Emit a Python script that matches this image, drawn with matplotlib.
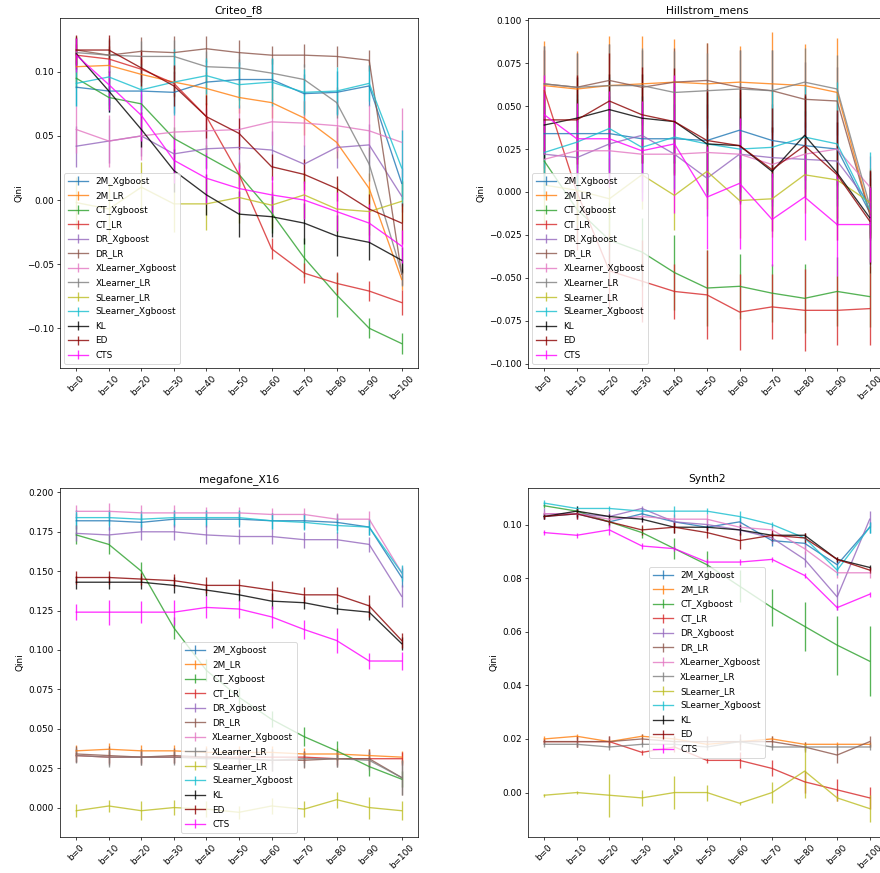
import matplotlib
matplotlib.use('Agg')
import matplotlib.pyplot as plt

bins = ['b=0', 'b=10', 'b=20', 'b=30', 'b=40', 'b=50', 'b=60', 'b=70', 'b=80', 'b=90', 'b=100']
methods = ['2M_Xgboost', '2M_LR', 'CT_Xgboost', 'CT_LR', 'DR_Xgboost', 'DR_LR',
           'XLearner_Xgboost', 'XLearner_LR', 'SLearner_LR', 'SLearner_Xgboost',
           'KL', 'ED', 'CTS']
colors = ['tab:blue', 'tab:orange', 'tab:green', 'tab:red', 'tab:purple', 'tab:brown',
          'tab:pink', 'tab:gray', 'tab:olive', 'tab:cyan', 'black', 'darkred', 'magenta']

# rows follow the order of `methods`
criteo_qini = [
    [0.088, 0.085, 0.085, 0.084, 0.092, 0.094, 0.094, 0.083, 0.084, 0.089, 0.013],
    [0.104, 0.105, 0.098, 0.092, 0.087, 0.080, 0.076, 0.064, 0.045, 0.009, -0.062],
    [0.095, 0.080, 0.075, 0.048, 0.034, 0.020, -0.010, -0.045, -0.074, -0.100, -0.112],
    [0.113, 0.110, 0.102, 0.091, 0.065, 0.020, -0.038, -0.057, -0.065, -0.071, -0.080],
    [0.042, 0.046, 0.050, 0.036, 0.040, 0.041, 0.039, 0.028, 0.041, 0.043, 0.003],
    [0.117, 0.113, 0.116, 0.115, 0.118, 0.115, 0.113, 0.113, 0.112, 0.109, -0.058],
    [0.055, 0.046, 0.050, 0.053, 0.054, 0.055, 0.061, 0.060, 0.058, 0.054, 0.045],
    [0.115, 0.113, 0.112, 0.112, 0.104, 0.103, 0.099, 0.094, 0.076, 0.028, -0.057],
    [-0.002, -0.007, 0.010, -0.003, -0.003, 0.002, -0.004, 0.004, -0.007, -0.009, -0.001],
    [0.091, 0.096, 0.086, 0.092, 0.097, 0.090, 0.092, 0.084, 0.085, 0.091, 0.025],
    [0.114, 0.085, 0.055, 0.023, 0.004, -0.011, -0.013, -0.018, -0.028, -0.033, -0.047],
    [0.117, 0.117, 0.103, 0.089, 0.065, 0.052, 0.026, 0.020, 0.009, -0.007, -0.018],
    [0.113, 0.090, 0.066, 0.031, 0.017, 0.009, 0.004, 0.000, -0.009, -0.018, -0.036],
]
criteo_err = [
    [0.015, 0.016, 0.015, 0.016, 0.017, 0.016, 0.016, 0.015, 0.017, 0.016, 0.012],
    [0.012, 0.013, 0.012, 0.012, 0.013, 0.012, 0.012, 0.013, 0.012, 0.012, 0.008],
    [0.008, 0.009, 0.008, 0.009, 0.009, 0.009, 0.016, 0.015, 0.017, 0.008, 0.008],
    [0.009, 0.010, 0.010, 0.010, 0.011, 0.010, 0.008, 0.008, 0.009, 0.008, 0.010],
    [0.016, 0.017, 0.016, 0.015, 0.016, 0.016, 0.015, 0.015, 0.016, 0.016, 0.012],
    [0.011, 0.012, 0.011, 0.013, 0.010, 0.010, 0.007, 0.009, 0.008, 0.008, 0.008],
    [0.018, 0.020, 0.019, 0.020, 0.018, 0.019, 0.018, 0.018, 0.020, 0.020, 0.027],
    [0.012, 0.013, 0.012, 0.013, 0.012, 0.012, 0.012, 0.012, 0.012, 0.013, 0.010],
    [0.020, 0.020, 0.020, 0.022, 0.020, 0.020, 0.018, 0.018, 0.018, 0.018, 0.016],
    [0.018, 0.022, 0.020, 0.026, 0.014, 0.018, 0.019, 0.018, 0.019, 0.014, 0.030],
    [0.012, 0.016, 0.014, 0.017, 0.016, 0.018, 0.016, 0.016, 0.016, 0.014, 0.010],
    [0.012, 0.012, 0.014, 0.016, 0.017, 0.012, 0.010, 0.012, 0.010, 0.012, 0.016],
    [0.013, 0.020, 0.020, 0.018, 0.020, 0.018, 0.015, 0.015, 0.015, 0.015, 0.013],
]

hill_qini = [
    [0.034, 0.034, 0.034, 0.031, 0.031, 0.030, 0.036, 0.030, 0.027, 0.025, -0.012],
    [0.062, 0.060, 0.062, 0.063, 0.064, 0.063, 0.064, 0.063, 0.062, 0.058, -0.012],
    [0.018, -0.010, -0.028, -0.035, -0.047, -0.056, -0.055, -0.059, -0.062, -0.058, -0.061],
    [0.059, 0.000, -0.046, -0.052, -0.058, -0.060, -0.070, -0.067, -0.069, -0.069, -0.068],
    [0.022, 0.020, 0.028, 0.033, 0.022, 0.008, 0.022, 0.020, 0.019, 0.018, -0.007],
    [0.063, 0.061, 0.065, 0.061, 0.064, 0.065, 0.061, 0.059, 0.054, 0.053, -0.013],
    [0.019, 0.024, 0.024, 0.022, 0.022, 0.023, 0.022, 0.016, 0.022, 0.025, 0.003],
    [0.063, 0.061, 0.062, 0.062, 0.058, 0.059, 0.060, 0.059, 0.064, 0.060, -0.008],
    [0.004, 0.001, -0.004, 0.010, -0.002, 0.012, -0.005, -0.004, 0.010, 0.007, -0.006],
    [0.023, 0.029, 0.037, 0.026, 0.032, 0.028, 0.025, 0.026, 0.032, 0.028, -0.010],
    [0.039, 0.043, 0.048, 0.043, 0.041, 0.028, 0.027, 0.012, 0.033, 0.011, -0.015],
    [0.042, 0.042, 0.053, 0.045, 0.041, 0.030, 0.027, 0.013, 0.027, 0.010, -0.017],
    [0.045, 0.031, 0.031, 0.024, 0.028, -0.003, 0.005, -0.016, -0.003, -0.019, -0.019],
]
hill_err = [
    [0.020, 0.020, 0.022, 0.021, 0.020, 0.021, 0.022, 0.021, 0.020, 0.021, 0.015],
    [0.026, 0.022, 0.029, 0.028, 0.025, 0.024, 0.021, 0.030, 0.024, 0.032, 0.015],
    [0.020, 0.020, 0.022, 0.020, 0.022, 0.022, 0.019, 0.017, 0.020, 0.020, 0.018],
    [0.024, 0.034, 0.022, 0.024, 0.016, 0.026, 0.022, 0.019, 0.024, 0.020, 0.021],
    [0.022, 0.022, 0.024, 0.023, 0.022, 0.022, 0.022, 0.022, 0.022, 0.022, 0.018],
    [0.022, 0.020, 0.021, 0.022, 0.020, 0.022, 0.022, 0.024, 0.022, 0.020, 0.015],
    [0.022, 0.022, 0.022, 0.022, 0.022, 0.022, 0.022, 0.022, 0.022, 0.022, 0.018],
    [0.022, 0.020, 0.024, 0.022, 0.024, 0.022, 0.023, 0.024, 0.020, 0.020, 0.016],
    [0.022, 0.020, 0.024, 0.020, 0.020, 0.022, 0.022, 0.022, 0.022, 0.022, 0.020],
    [0.027, 0.028, 0.030, 0.030, 0.030, 0.030, 0.030, 0.034, 0.030, 0.036, 0.033],
    [0.020, 0.024, 0.021, 0.026, 0.024, 0.030, 0.033, 0.026, 0.023, 0.030, 0.027],
    [0.020, 0.026, 0.028, 0.028, 0.031, 0.030, 0.034, 0.036, 0.030, 0.038, 0.030],
    [0.023, 0.021, 0.028, 0.029, 0.040, 0.030, 0.038, 0.027, 0.025, 0.030, 0.022],
]

mega_qini = [
    [0.182, 0.182, 0.181, 0.183, 0.183, 0.183, 0.182, 0.182, 0.181, 0.178, 0.146],
    [0.036, 0.037, 0.036, 0.036, 0.035, 0.035, 0.035, 0.034, 0.034, 0.033, 0.032],
    [0.173, 0.167, 0.150, 0.114, 0.087, 0.070, 0.056, 0.045, 0.036, 0.026, 0.018],
    [0.033, 0.032, 0.032, 0.032, 0.032, 0.032, 0.032, 0.032, 0.031, 0.031, 0.031],
    [0.174, 0.173, 0.175, 0.175, 0.173, 0.172, 0.172, 0.170, 0.170, 0.167, 0.134],
    [0.034, 0.033, 0.032, 0.033, 0.032, 0.031, 0.030, 0.030, 0.031, 0.031, 0.019],
    [0.188, 0.188, 0.187, 0.187, 0.187, 0.187, 0.186, 0.186, 0.183, 0.183, 0.149],
    [0.033, 0.032, 0.032, 0.032, 0.031, 0.031, 0.030, 0.031, 0.031, 0.030, 0.019],
    [-0.002, 0.001, -0.002, 0.000, -0.001, -0.003, 0.001, -0.001, 0.005, 0.000, -0.002],
    [0.184, 0.184, 0.183, 0.184, 0.184, 0.184, 0.182, 0.181, 0.179, 0.178, 0.149],
    [0.143, 0.143, 0.143, 0.141, 0.138, 0.135, 0.131, 0.130, 0.126, 0.124, 0.104],
    [0.146, 0.146, 0.145, 0.144, 0.141, 0.141, 0.138, 0.135, 0.135, 0.128, 0.106],
    [0.124, 0.124, 0.124, 0.124, 0.127, 0.126, 0.121, 0.113, 0.106, 0.093, 0.093],
]
mega_err = [
    [0.005, 0.006, 0.005, 0.005, 0.005, 0.005, 0.005, 0.005, 0.005, 0.005, 0.006],
    [0.004, 0.004, 0.004, 0.004, 0.004, 0.004, 0.004, 0.004, 0.004, 0.004, 0.004],
    [0.006, 0.006, 0.006, 0.007, 0.007, 0.006, 0.005, 0.006, 0.006, 0.006, 0.005],
    [0.004, 0.004, 0.004, 0.004, 0.004, 0.004, 0.004, 0.004, 0.004, 0.004, 0.004],
    [0.005, 0.005, 0.005, 0.005, 0.006, 0.005, 0.005, 0.005, 0.005, 0.005, 0.007],
    [0.005, 0.006, 0.005, 0.005, 0.006, 0.006, 0.007, 0.005, 0.005, 0.006, 0.011],
    [0.004, 0.005, 0.005, 0.005, 0.004, 0.004, 0.004, 0.004, 0.004, 0.005, 0.004],
    [0.005, 0.006, 0.005, 0.005, 0.006, 0.006, 0.007, 0.005, 0.005, 0.006, 0.011],
    [0.004, 0.004, 0.006, 0.005, 0.005, 0.004, 0.005, 0.005, 0.005, 0.007, 0.006],
    [0.005, 0.005, 0.005, 0.005, 0.005, 0.005, 0.005, 0.005, 0.005, 0.005, 0.005],
    [0.004, 0.004, 0.004, 0.005, 0.004, 0.004, 0.005, 0.004, 0.003, 0.005, 0.004],
    [0.004, 0.004, 0.004, 0.004, 0.005, 0.004, 0.006, 0.005, 0.005, 0.007, 0.005],
    [0.005, 0.008, 0.007, 0.008, 0.007, 0.006, 0.007, 0.006, 0.008, 0.005, 0.006],
]

synth_qini = [
    [0.103, 0.104, 0.101, 0.104, 0.101, 0.099, 0.101, 0.094, 0.093, 0.085, 0.099],
    [0.020, 0.021, 0.019, 0.021, 0.020, 0.018, 0.019, 0.020, 0.018, 0.018, 0.018],
    [0.107, 0.105, 0.101, 0.097, 0.091, 0.085, 0.077, 0.069, 0.062, 0.055, 0.049],
    [0.019, 0.019, 0.019, 0.015, 0.017, 0.012, 0.012, 0.009, 0.004, 0.001, -0.002],
    [0.104, 0.104, 0.103, 0.106, 0.101, 0.100, 0.098, 0.095, 0.087, 0.073, 0.102],
    [0.019, 0.019, 0.019, 0.020, 0.019, 0.019, 0.019, 0.019, 0.017, 0.014, 0.019],
    [0.104, 0.104, 0.102, 0.103, 0.102, 0.102, 0.099, 0.098, 0.091, 0.082, 0.082],
    [0.018, 0.018, 0.017, 0.018, 0.018, 0.017, 0.019, 0.017, 0.017, 0.017, 0.017],
    [-0.001, 0.000, -0.001, -0.002, 0.000, 0.000, -0.004, 0.000, 0.008, -0.002, -0.006],
    [0.108, 0.106, 0.106, 0.105, 0.105, 0.105, 0.103, 0.100, 0.095, 0.083, 0.099],
    [0.103, 0.105, 0.103, 0.102, 0.099, 0.099, 0.098, 0.096, 0.096, 0.087, 0.084],
    [0.103, 0.104, 0.101, 0.098, 0.099, 0.097, 0.094, 0.096, 0.095, 0.087, 0.083],
    [0.097, 0.096, 0.098, 0.092, 0.091, 0.086, 0.086, 0.087, 0.081, 0.069, 0.074],
]
synth_err = [
    [0.001, 0.001, 0.001, 0.002, 0.001, 0.001, 0.002, 0.002, 0.002, 0.002, 0.002],
    [0.001, 0.001, 0.001, 0.001, 0.001, 0.001, 0.001, 0.001, 0.001, 0.001, 0.001],
    [0.001, 0.001, 0.002, 0.002, 0.004, 0.005, 0.006, 0.007, 0.009, 0.011, 0.013],
    [0.001, 0.002, 0.002, 0.001, 0.002, 0.001, 0.003, 0.003, 0.004, 0.004, 0.004],
    [0.002, 0.002, 0.002, 0.001, 0.002, 0.002, 0.002, 0.002, 0.003, 0.005, 0.003],
    [0.001, 0.002, 0.002, 0.002, 0.002, 0.002, 0.003, 0.002, 0.002, 0.003, 0.002],
    [0.001, 0.002, 0.002, 0.002, 0.002, 0.002, 0.002, 0.002, 0.002, 0.002, 0.002],
    [0.001, 0.001, 0.001, 0.001, 0.001, 0.001, 0.001, 0.001, 0.001, 0.001, 0.001],
    [0.0005, 0.0005, 0.008, 0.003, 0.006, 0.003, 0.0005, 0.004, 0.010, 0.001, 0.005],
    [0.001, 0.001, 0.001, 0.001, 0.002, 0.001, 0.002, 0.001, 0.001, 0.002, 0.002],
    [0.001, 0.002, 0.001, 0.001, 0.002, 0.001, 0.002, 0.001, 0.001, 0.001, 0.001],
    [0.001, 0.002, 0.001, 0.002, 0.002, 0.002, 0.003, 0.002, 0.002, 0.001, 0.001],
    [0.001, 0.001, 0.002, 0.001, 0.001, 0.001, 0.001, 0.001, 0.001, 0.001, 0.001],
]

panels = [
    ('Criteo_f8', criteo_qini, criteo_err, (-0.131, 0.142), 'lower left',
     [0.0682, 0.5785, 0.4068, 0.4009]),
    ('Hillstrom_mens', hill_qini, hill_err, (-0.1026, 0.1014), 'lower left',
     [0.6, 0.5785, 0.4068, 0.4009]),
    ('megafone_X16', mega_qini, mega_err, (-0.0187, 0.2029), 'lower center',
     [0.0682, 0.0412, 0.4068, 0.4]),
    ('Synth2', synth_qini, synth_err, (-0.0166, 0.1137), 'center',
     [0.6, 0.0412, 0.4068, 0.4]),
]

# the reference looks like a slightly shrunk render, so use a lower dpi
fig = plt.figure(figsize=(880 / 64, 873 / 64), dpi=64)
for title, qini, err, ylim, loc, rect in panels:
    ax = fig.add_axes(rect)
    for name, c, vals, e in zip(methods, colors, qini, err):
        ax.errorbar(bins, vals, yerr=e, color=c, label=name, alpha=0.8)
    ax.set_title(title)
    ax.set_ylabel('Qini')
    ax.set_ylim(*ylim)
    ax.tick_params(axis='x', labelrotation=45)
    ax.legend(loc=loc, labelspacing=0.62, handlelength=2.3)

fig.savefig('out.png', dpi=64)
